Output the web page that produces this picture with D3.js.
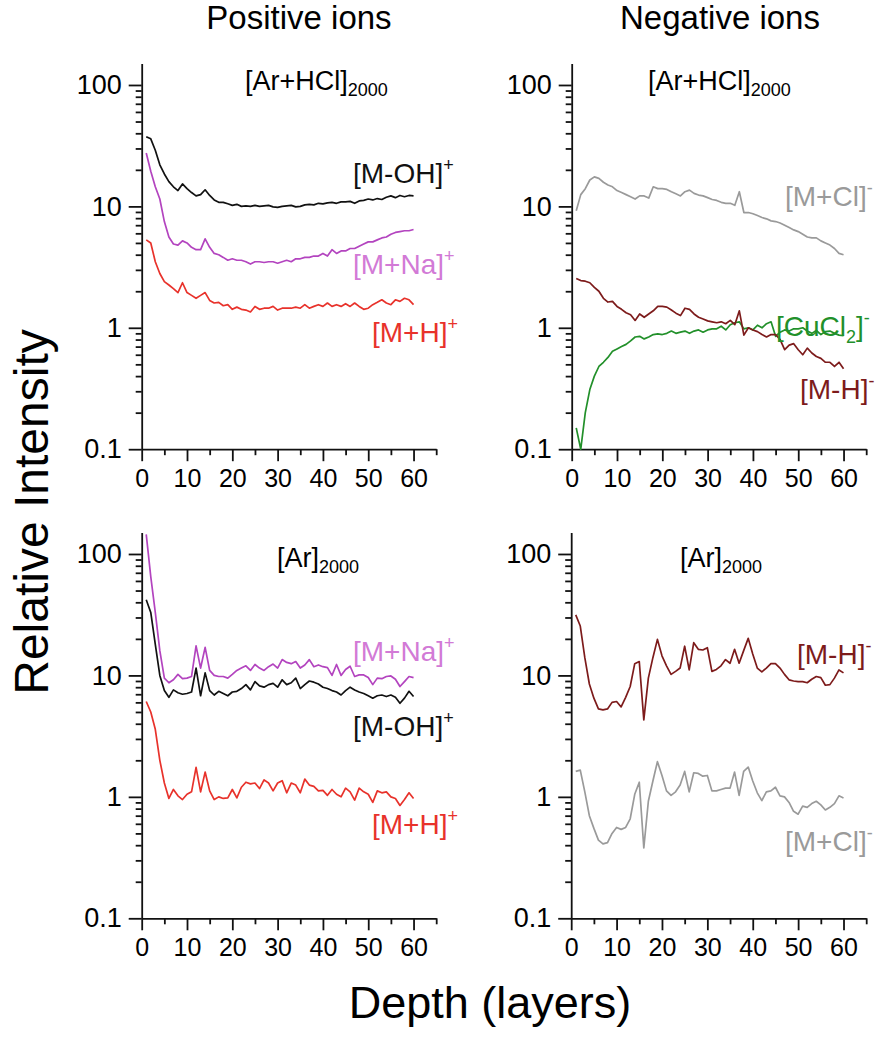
<!DOCTYPE html>
<html><head><meta charset="utf-8">
<script src="https://cdn.jsdelivr.net/npm/d3@7"></script>
<style>
body{margin:0;background:#fff}
svg{display:block}
text{font-family:"Liberation Sans",Arial,Helvetica,sans-serif}
</style>
</head><body>
<svg id="c" width="884" height="1050"></svg>
<script>
const layers = [1,2,3,4,5,6,7,8,9,10,11,12,13,14,15,16,17,18,19,20,21,22,23,24,25,26,27,28,29,30,31,32,33,34,35,36,37,38,39,40,41,42,43,44,45,46,47,48,49,50,51,52,53,54,55,56,57,58,59,60];
const xTicksMajor = [0,10,20,30,40,50,60];
const xTicksMinor = [5,15,25,35,45,55,65];
const yTicksMajor = [0.1,1,10,100];
const yTickLabels = ["0.1","1","10","100"];
const yTicksMinor = [0.2,0.3,0.4,0.5,0.6,0.7,0.8,0.9,2,3,4,5,6,7,8,9,20,30,40,50,60,70,80,90];

// Top-left: [Ar+HCl]2000, positive ions
const tlMOH = [37.5,36,29,22,18.5,16,14.5,13.5,15.3,14, 13,12.2,12.5,13.7,12.3,11.3,10.8,10.8,10.5,10.2, 10.4,10.0,10.1,10.0,10.2,10.0,10.1,10.2,9.9,9.8, 10.0,10.1,10.2,9.9,10.0,10.3,10.4,10.3,10.6,10.5, 10.7,10.8,10.6,10.9,10.9,11.0,10.6,11.1,11.2,11.5, 11.3,11.6,11.4,11.9,12.2,11.8,12.3,12.0,12.3,12.2];
const tlMNa = [27.5,19.5,14.5,11.5,7.5,5.6,4.9,4.8,5.2,5.0, 4.6,4.4,4.4,5.4,4.6,4.1,4.0,3.8,3.6,3.7, 3.6,3.6,3.5,3.35,3.5,3.5,3.45,3.5,3.5,3.4, 3.5,3.6,3.5,3.7,3.7,3.8,3.8,3.9,3.9,4.1, 3.9,4.4,4.1,4.3,4.3,4.5,4.5,4.7,4.9,5.1, 5.1,5.3,5.5,5.6,5.9,6.1,6.2,6.3,6.3,6.45];
const tlMH = [5.3,5.0,3.5,2.8,2.4,2.25,2.1,1.95,2.35,1.95, 1.85,1.75,1.85,1.95,1.68,1.6,1.62,1.52,1.55,1.42, 1.48,1.42,1.4,1.35,1.5,1.42,1.45,1.45,1.5,1.4, 1.45,1.45,1.45,1.48,1.45,1.55,1.45,1.5,1.55,1.5, 1.6,1.5,1.55,1.5,1.58,1.5,1.6,1.5,1.42,1.45, 1.55,1.62,1.7,1.6,1.55,1.7,1.65,1.75,1.7,1.55];

// Top-right: [Ar+HCl]2000, negative ions
const trMCl = [9.2,12.5,14,16.5,17.5,17,15.8,15,14.5,13.5, 13,12.5,12,11.5,12.2,12.2,11.7,14.5,14,14, 13.8,13.2,12.7,12.2,13.2,13.6,12.8,12.4,12.2,11.8, 11.4,11.2,10.8,10.6,10.6,10.2,13.2,8.9,8.9,8.7, 8.4,8.1,7.9,7.6,7.5,7.3,7.0,6.7,6.4,6.2, 5.9,5.6,5.5,5.5,5.2,5.0,4.8,4.5,4.1,4.0];
const trMH = [2.55,2.45,2.42,2.35,2.15,2.0,1.75,1.63,1.65,1.5, 1.42,1.33,1.28,1.15,1.3,1.22,1.3,1.38,1.5,1.5, 1.48,1.4,1.32,1.26,1.45,1.42,1.3,1.22,1.18,1.14, 1.12,1.1,1.12,1.08,1.15,1.06,1.38,0.87,1.0,0.96, 0.93,0.88,0.84,0.88,0.88,0.8,0.66,0.72,0.74,0.66, 0.6,0.68,0.62,0.58,0.56,0.52,0.52,0.48,0.52,0.46];
const trCuCl2 = [0.15,0.1,0.2,0.31,0.4,0.48,0.52,0.57,0.64,0.67, 0.7,0.73,0.78,0.84,0.85,0.81,0.84,0.88,0.89,0.88, 0.9,0.94,0.9,0.92,0.94,0.9,0.94,0.96,0.92,0.96, 0.98,0.98,1.03,0.96,1.06,1.1,1.12,0.98,1.0,0.96, 1.05,1.0,1.08,1.12,0.85,0.92,0.96,0.94,0.98,0.98, 1.0,0.94,0.9,0.95,0.88,0.93,0.94,0.9,0.87,0.86];

// Bottom-left: [Ar]2000, positive ions
const blMNa = [145,65,33,16,9.5,8.7,9.2,10.2,9.4,9.5, 9.8,17.5,11.5,17,11,10,9.8,9.8,9.5,10.2, 11,11.5,12,11,12.3,11.5,11,11.8,12.4,11.5, 13.5,12.8,12.5,13,11.5,12.2,13.5,11.8,12.2,11.8, 11.6,10,12.3,10,11.2,11.9,9.8,10.1,10.1,9.6, 8.4,9.5,9.4,9.8,9.9,9.3,8.1,8.9,9.8,9.6];
const blMOH = [42,33,18,10,7.5,6.6,7.6,7.2,7.0,7.1, 7.3,11.5,6.8,10.5,7.5,6.9,7.4,7.1,6.8,7.3, 7.4,7.8,8.4,7.6,8.9,8.2,8.0,8.4,8.6,8.0, 9.2,8.4,8.7,9.5,7.8,8.4,9.0,8.8,8.5,8.0, 7.8,7.5,7.3,6.9,7.5,8.0,7.6,7.3,7.1,6.8, 6.5,6.8,6.9,6.7,6.9,6.6,5.9,6.5,7.4,6.7];
const blMH = [6.1,5.0,3.6,2.0,1.3,0.97,1.15,1.02,0.95,1.05, 1.1,1.75,1.1,1.6,1.12,0.95,1.0,0.97,0.98,1.15, 0.98,1.2,1.32,1.28,1.3,1.17,1.38,1.3,1.12,1.3, 1.36,1.08,1.3,1.25,1.08,1.4,1.25,1.22,1.12,1.13, 1.03,1.15,1.05,1.0,1.18,1.1,0.94,1.18,1.1,1.05, 0.9,1.12,1.08,1.1,1.0,0.97,0.85,0.95,1.08,0.97];

// Bottom-right: [Ar]2000, negative ions
const brMH = [31.5,25.5,14,8.5,6.5,5.3,5.2,5.3,6.0,6.1, 5.5,6.6,8.1,12.5,13,4.3,9.5,14,19.8,14.5, 12,10.2,10.8,11.5,17.4,11.1,18.6,16.4,16.2,16.9, 10.8,11.2,12,13.5,12.6,16.4,12.6,16,20.2,15, 11.5,10.7,11.5,12.5,12.5,11.5,10.2,9.2,9.0,8.9, 8.9,8.7,9.3,9.8,9.6,8.3,8.4,9.5,11.1,10.5];
const brMCl = [1.62,1.66,1.1,0.7,0.55,0.44,0.41,0.42,0.5,0.56, 0.54,0.56,0.66,1.05,1.32,0.38,0.92,1.35,1.95,1.5, 1.12,1.03,1.1,1.25,1.62,1.1,1.58,1.56,1.48,1.5, 1.12,1.12,1.15,1.18,1.18,1.6,1.03,1.62,1.76,1.35, 1.08,0.93,1.1,1.12,1.2,1.02,1.0,0.9,0.76,0.72, 0.84,0.82,0.88,0.92,0.86,0.78,0.82,0.88,1.02,0.98];

const C = {
  black:"#111111", magenta:"#b344bf", magentaLbl:"#d27ad6",
  red:"#e8322b", gray:"#9a9a9a", green:"#22902a", darkred:"#7d1b1b"
};

const svg = d3.select("#c");

const panels = [
  { xr:[141.7,436.2], yr:[449.2,63.6], title:[["[Ar+HCl]",""],["2000","sub"]], tx:245, ty:90,
    series:[[tlMOH,C.black],[tlMNa,C.magenta],[tlMH,C.red]],
    labels:[
      {x:353,y:183,c:C.black,p:[["[M-OH]",""],["+","sup"]]},
      {x:353,y:274,c:C.magentaLbl,p:[["[M+Na]",""],["+","sup"]]},
      {x:372,y:342,c:C.red,p:[["[M+H]",""],["+","sup"]]}
    ]},
  { xr:[571.7,866.2], yr:[449.2,63.6], title:[["[Ar+HCl]",""],["2000","sub"]], tx:648, ty:90,
    series:[[trMCl,C.gray],[trCuCl2,C.green],[trMH,C.darkred]],
    labels:[
      {x:785,y:206,c:C.gray,p:[["[M+Cl]",""],["-","sup"]]},
      {x:776,y:336,c:C.green,p:[["[CuCl",""],["2","sub"],["]",""],["-","sup"]]},
      {x:800,y:399,c:C.darkred,p:[["[M-H]",""],["-","sup"]]}
    ]},
  { xr:[141.7,436.2], yr:[918.3,532.6], title:[["[Ar]",""],["2000","sub"]], tx:277, ty:567,
    series:[[blMNa,C.magenta],[blMOH,C.black],[blMH,C.red]],
    labels:[
      {x:353,y:661,c:C.magentaLbl,p:[["[M+Na]",""],["+","sup"]]},
      {x:353,y:736,c:C.black,p:[["[M-OH]",""],["+","sup"]]},
      {x:372,y:834,c:C.red,p:[["[M+H]",""],["+","sup"]]}
    ]},
  { xr:[571.2,866.2], yr:[918.3,532.6], title:[["[Ar]",""],["2000","sub"]], tx:680, ty:567,
    series:[[brMH,C.darkred],[brMCl,C.gray]],
    labels:[
      {x:797,y:664,c:C.darkred,p:[["[M-H]",""],["-","sup"]]},
      {x:785,y:851,c:C.gray,p:[["[M+Cl]",""],["-","sup"]]}
    ]}
];

function rich(g, x, y, parts, size, color, subSize, subShift){
  const t = g.append("text").attr("x",x).attr("y",y).attr("font-size",size).attr("fill",color);
  let shift = 0;
  parts.forEach(([s,k])=>{
    const target = k==="sup" ? -size*0.42 : (k==="sub" ? subShift : 0);
    const ts = t.append("tspan").attr("dy", target-shift).text(s);
    if(k) ts.attr("font-size", subSize);
    shift = target;
  });
  return t;
}

panels.forEach(P=>{
  const x = d3.scaleLinear().domain([0,65]).range(P.xr);
  const y = d3.scaleLog().domain([0.1,150]).range(P.yr);
  const g = svg.append("g");

  const yMaj = g.append("g").attr("transform",`translate(${P.xr[0]},0)`)
    .call(d3.axisLeft(y).tickValues(yTicksMajor).tickFormat((d,i)=>yTickLabels[i]).tickSize(13).tickSizeOuter(0).tickPadding(7));
  yMaj.selectAll(".tick text").attr("font-size",27);
  const yMin = g.append("g").attr("transform",`translate(${P.xr[0]},0)`)
    .call(d3.axisLeft(y).tickValues(yTicksMinor).tickFormat("").tickSize(6).tickSizeOuter(0));
  yMin.select(".domain").remove();
  const xMaj = g.append("g").attr("transform",`translate(0,${P.yr[0]})`)
    .call(d3.axisBottom(x).tickValues(xTicksMajor).tickSize(12).tickSizeOuter(0).tickPadding(8));
  xMaj.selectAll(".tick text").attr("font-size",25);
  const xMin = g.append("g").attr("transform",`translate(0,${P.yr[0]})`)
    .call(d3.axisBottom(x).tickValues(xTicksMinor).tickFormat("").tickSize(6).tickSizeOuter(0));
  xMin.select(".domain").remove();
  g.selectAll(".domain, .tick line").attr("stroke","#111").attr("stroke-width",1.8);
  g.selectAll(".tick text").attr("font-family",'"Liberation Sans",Arial,sans-serif').attr("fill","#000");

  const line = d3.line().x((d,i)=>x(layers[i])).y(d=>y(d));
  P.series.forEach(([vals,col])=>{
    g.append("path").datum(vals).attr("d",line).attr("fill","none")
      .attr("stroke",col).attr("stroke-width",1.7).attr("stroke-linejoin","round");
  });

  rich(g, P.tx, P.ty, P.title, 27, "#000", 18, 6);
  P.labels.forEach(L=>rich(g, L.x, L.y, L.p, 28, L.c, 18, 7));
});

svg.append("text").attr("x",299).attr("y",29).attr("text-anchor","middle").attr("font-size",33).text("Positive ions");
svg.append("text").attr("x",720).attr("y",29).attr("text-anchor","middle").attr("font-size",33).text("Negative ions");
svg.append("text").attr("transform","translate(48,512) rotate(-90)").attr("text-anchor","middle").attr("font-size",48).text("Relative Intensity");
svg.append("text").attr("x",490).attr("y",1018).attr("text-anchor","middle").attr("font-size",45).text("Depth (layers)");
</script>
</body></html>
